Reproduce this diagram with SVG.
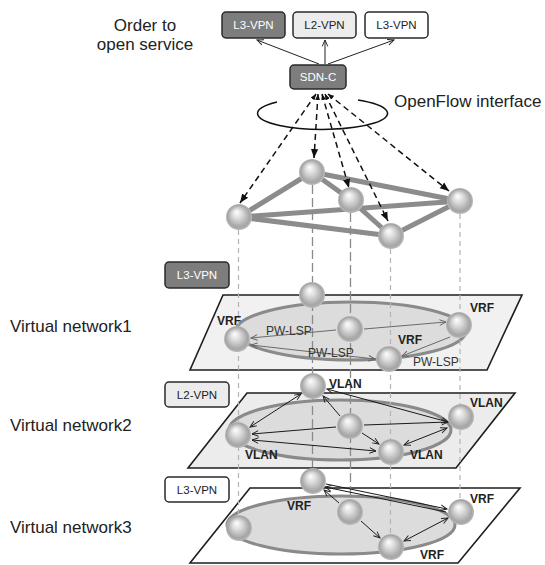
<svg xmlns="http://www.w3.org/2000/svg" width="545" height="565" viewBox="0 0 545 565">
<style>
.big{font-family:"Liberation Sans",Arial,sans-serif;font-size:17px;fill:#222}
.btxt{font-family:"Liberation Sans",Arial,sans-serif;font-size:11.5px;text-anchor:middle}
.lbl{font-family:"Liberation Sans",Arial,sans-serif;font-size:12px;font-weight:bold;fill:#222}
.pw{font-family:"Liberation Sans",Arial,sans-serif;font-size:12px;fill:#333}
.box{stroke:#2a2a2a;stroke-width:1.5}
.plane{stroke:#1e1e1e;stroke-width:1.6}
.ell{fill:#dcdcdc;stroke:#8a8a8a;stroke-width:3}
.phy{stroke:#8c8c8c;stroke-width:5;stroke-linecap:round}
.vl{stroke:#b4b4b4;stroke-width:1.2;stroke-dasharray:5 4;fill:none}
.vd{stroke:#8a8a8a;stroke-width:1.3;stroke-dasharray:9 4;fill:none}
.of{stroke:#111;stroke-width:1.5;stroke-dasharray:6 4;fill:none;marker-end:url(#tri);marker-start:url(#tris)}
.up{stroke:#222;stroke-width:1;fill:none;marker-end:url(#ch)}
.ag{stroke:#6a6a6a;stroke-width:1;fill:none}
.ab{stroke:#1a1a1a;stroke-width:1;fill:none}
.sph{fill:url(#sph)}
</style>
<defs>
<radialGradient id="sph" cx="0.5" cy="0.5" r="0.5" fx="0.4" fy="0.3">
<stop offset="0" stop-color="#ffffff"/>
<stop offset="0.35" stop-color="#dedede"/>
<stop offset="0.85" stop-color="#a4a4a4"/>
<stop offset="1" stop-color="#bababa"/>
</radialGradient>
<marker id="ch" viewBox="0 0 10 10" refX="9" refY="5" markerWidth="8" markerHeight="8" markerUnits="userSpaceOnUse" orient="auto-start-reverse"><path d="M1,1.5 L9,5 L1,8.5" fill="none" stroke="#222" stroke-width="1.2"/></marker>
<marker id="chg" viewBox="0 0 10 10" refX="9" refY="5" markerWidth="8" markerHeight="8" markerUnits="userSpaceOnUse" orient="auto-start-reverse"><path d="M1,1.5 L9,5 L1,8.5" fill="none" stroke="#666" stroke-width="1.2"/></marker>
<marker id="tri" viewBox="0 0 10 10" refX="10" refY="5" markerWidth="9" markerHeight="9" markerUnits="userSpaceOnUse" orient="auto"><path d="M0,1 L10,5 L0,9 z" fill="#111"/></marker>
<marker id="tris" viewBox="0 0 10 10" refX="10" refY="5" markerWidth="6" markerHeight="6" markerUnits="userSpaceOnUse" orient="auto-start-reverse"><path d="M0,1 L10,5 L0,9 z" fill="#111"/></marker>
</defs>
<rect width="545" height="565" fill="#fff"/>

<!-- texts on the left -->
<text class="big" x="145" y="31" text-anchor="middle">Order to</text>
<text class="big" x="145" y="50" text-anchor="middle">open service</text>
<text class="big" x="394" y="107">OpenFlow interface</text>
<text class="big" x="10" y="332">Virtual network1</text>
<text class="big" x="10" y="431">Virtual network2</text>
<text class="big" x="10" y="533">Virtual network3</text>

<!-- planes -->
<polygon class="plane" points="223,295 522,295 487,370 190,370" fill="#f1f1f1"/>
<ellipse class="ell" cx="351" cy="331" rx="115" ry="29"/>
<polygon class="plane" points="247,393 515,393 456,468 188,468" fill="#ececec"/>
<ellipse class="ell" cx="340" cy="430" rx="111" ry="30"/>
<polygon class="plane" points="250,488 520,488 458,563 190,563" fill="#ffffff"/>
<ellipse class="ell" cx="341" cy="525" rx="114" ry="29"/>

<!-- OpenFlow ring -->
<path d="M358,100 A65,16 0 1 1 277,102" fill="none" stroke="#111" stroke-width="1.5"/>

<g id="connectors">
<!-- top service arrows -->
<line class="up" x1="319" y1="64" x2="257" y2="40"/>
<line class="up" x1="325" y1="64" x2="325" y2="40"/>
<line class="up" x1="328" y1="64" x2="394" y2="40"/>
<!-- physical links -->
<line class="phy" x1="312" y1="172" x2="239" y2="217"/>
<line class="phy" x1="312" y1="172" x2="351" y2="200"/>
<line class="phy" x1="312" y1="172" x2="460" y2="201"/>
<line class="phy" x1="239" y1="217" x2="460" y2="201"/>
<line class="phy" x1="239" y1="217" x2="391" y2="236"/>
<line class="phy" x1="351" y1="200" x2="391" y2="236"/>
<line class="phy" x1="391" y1="236" x2="460" y2="201"/>
<!-- OpenFlow control arrows -->
<line class="of" x1="316" y1="94" x2="240" y2="203"/>
<line class="of" x1="318" y1="94" x2="314" y2="158"/>
<line class="of" x1="322" y1="94" x2="349" y2="188"/>
<line class="of" x1="325" y1="94" x2="388" y2="221"/>
<line class="of" x1="328" y1="94" x2="449" y2="191"/>
<!-- vertical projection lines -->
<line class="vl" x1="238.5" y1="230" x2="238.5" y2="528"/>
<line class="vd" x1="312.5" y1="185" x2="312.5" y2="481"/>
<line class="vd" x1="350.5" y1="213" x2="350.5" y2="512"/>
<line class="vl" x1="390.5" y1="249" x2="390.5" y2="547"/>
<line class="vl" x1="460" y1="214" x2="460" y2="512"/>
<!-- layer 1 -->
<line class="ag" x1="336" y1="330" x2="251" y2="338" marker-end="url(#chg)"/>
<line class="ag" x1="364" y1="329" x2="446" y2="322" marker-end="url(#chg)"/>
<line class="ag" x1="251" y1="345" x2="375" y2="359" marker-start="url(#chg)" marker-end="url(#chg)"/>
<line class="ag" x1="450" y1="337" x2="402" y2="356" marker-end="url(#chg)"/>
<!-- layer 2 -->
<line class="ab" x1="301" y1="394" x2="250" y2="427" marker-start="url(#ch)" marker-end="url(#ch)"/>
<line class="ab" x1="340" y1="416" x2="323" y2="396" marker-end="url(#ch)"/>
<line class="ab" x1="327" y1="389" x2="448" y2="422" marker-start="url(#ch)" marker-end="url(#ch)"/>
<line class="ab" x1="336" y1="427" x2="252" y2="434" marker-end="url(#ch)"/>
<line class="ab" x1="364" y1="425" x2="448" y2="422" marker-end="url(#ch)"/>
<line class="ab" x1="362" y1="433" x2="379" y2="444" marker-end="url(#ch)"/>
<line class="ab" x1="252" y1="440" x2="376" y2="451" marker-start="url(#ch)" marker-end="url(#ch)"/>
<line class="ab" x1="447" y1="428" x2="404" y2="445" marker-start="url(#ch)" marker-end="url(#ch)"/>
<!-- layer 3 -->
<line class="ab" x1="326" y1="484" x2="447" y2="509" marker-end="url(#ch)"/>
<line class="ab" x1="325" y1="487" x2="446" y2="512" marker-start="url(#ch)"/>
<line class="ab" x1="339" y1="503" x2="324" y2="490" marker-end="url(#ch)"/>
<line class="ab" x1="361" y1="521" x2="380" y2="538" marker-end="url(#ch)"/>
<line class="ab" x1="448" y1="518" x2="404" y2="541" marker-start="url(#ch)" marker-end="url(#ch)"/>
</g>

<!-- service boxes -->
<g id="box-l3vpn-top"><rect class="box" x="222" y="12" width="63" height="26" rx="4" fill="#7d7d7d"/><text class="btxt" x="253.5" y="29" fill="#fff">L3-VPN</text></g>
<g id="box-l2vpn-top"><rect class="box" x="293" y="12" width="63" height="26" rx="4" fill="#ececec"/><text class="btxt" x="324.5" y="29" fill="#222">L2-VPN</text></g>
<g id="box-l3vpn-top2"><rect class="box" x="365" y="12" width="63" height="26" rx="4" fill="#ffffff"/><text class="btxt" x="396.5" y="29" fill="#222">L3-VPN</text></g>
<g id="sdnc"><rect class="box" x="290" y="65" width="56" height="24" rx="4" fill="#7d7d7d"/><text class="btxt" x="318" y="81" fill="#fff">SDN-C</text></g>
<g id="box-vn1"><rect class="box" x="165" y="262" width="64" height="26" rx="4" fill="#7d7d7d"/><text class="btxt" x="197" y="279" fill="#fff">L3-VPN</text></g>
<g id="box-vn2"><rect class="box" x="165" y="382" width="64" height="25" rx="4" fill="#ececec"/><text class="btxt" x="197" y="398.5" fill="#222">L2-VPN</text></g>
<g id="box-vn3"><rect class="box" x="165" y="477" width="64" height="25" rx="4" fill="#ffffff"/><text class="btxt" x="197" y="493.5" fill="#222">L3-VPN</text></g>

<!-- physical nodes -->
<g id="p-a"><circle class="sph" cx="312" cy="172" r="13"/></g>
<g id="p-b"><circle class="sph" cx="351" cy="200" r="13"/></g>
<g id="p-c"><circle class="sph" cx="239" cy="217" r="13"/></g>
<g id="p-d"><circle class="sph" cx="391" cy="236" r="13"/></g>
<g id="p-e"><circle class="sph" cx="460" cy="201" r="13"/></g>
<!-- layer 1 nodes -->
<g id="v1-t"><circle class="sph" cx="312" cy="295" r="13"/></g>
<g id="v1-c"><circle class="sph" cx="350" cy="329" r="13"/></g>
<g id="v1-l"><circle class="sph" cx="237" cy="339" r="13"/></g>
<g id="v1-r"><circle class="sph" cx="459" cy="325" r="13"/></g>
<g id="v1-b"><circle class="sph" cx="389" cy="359" r="13"/></g>
<!-- layer 2 nodes -->
<g id="v2-t"><circle class="sph" cx="313" cy="386" r="13"/></g>
<g id="v2-c"><circle class="sph" cx="350" cy="426" r="13"/></g>
<g id="v2-l"><circle class="sph" cx="238" cy="435" r="13"/></g>
<g id="v2-r"><circle class="sph" cx="461" cy="417" r="13"/></g>
<g id="v2-b"><circle class="sph" cx="391" cy="452" r="13"/></g>
<!-- layer 3 nodes -->
<g id="v3-t"><circle class="sph" cx="313" cy="481" r="13"/></g>
<g id="v3-c"><circle class="sph" cx="350" cy="512" r="13"/></g>
<g id="v3-l"><circle class="sph" cx="239" cy="528" r="13"/></g>
<g id="v3-r"><circle class="sph" cx="461" cy="512" r="13"/></g>
<g id="v3-b"><circle class="sph" cx="391" cy="547" r="13"/></g>

<!-- layer labels -->
<text class="lbl" x="217" y="325">VRF</text>
<text class="lbl" x="470" y="312">VRF</text>
<text class="lbl" x="398" y="344">VRF</text>
<text class="pw" x="266" y="335">PW-LSP</text>
<text class="pw" x="308" y="357">PW-LSP</text>
<text class="pw" x="413" y="366">PW-LSP</text>
<text class="lbl" x="329" y="388">VLAN</text>
<text class="lbl" x="470" y="407">VLAN</text>
<text class="lbl" x="245" y="459">VLAN</text>
<text class="lbl" x="410" y="459">VLAN</text>
<text class="lbl" x="287" y="510">VRF</text>
<text class="lbl" x="470" y="503">VRF</text>
<text class="lbl" x="420" y="559">VRF</text>
</svg>
